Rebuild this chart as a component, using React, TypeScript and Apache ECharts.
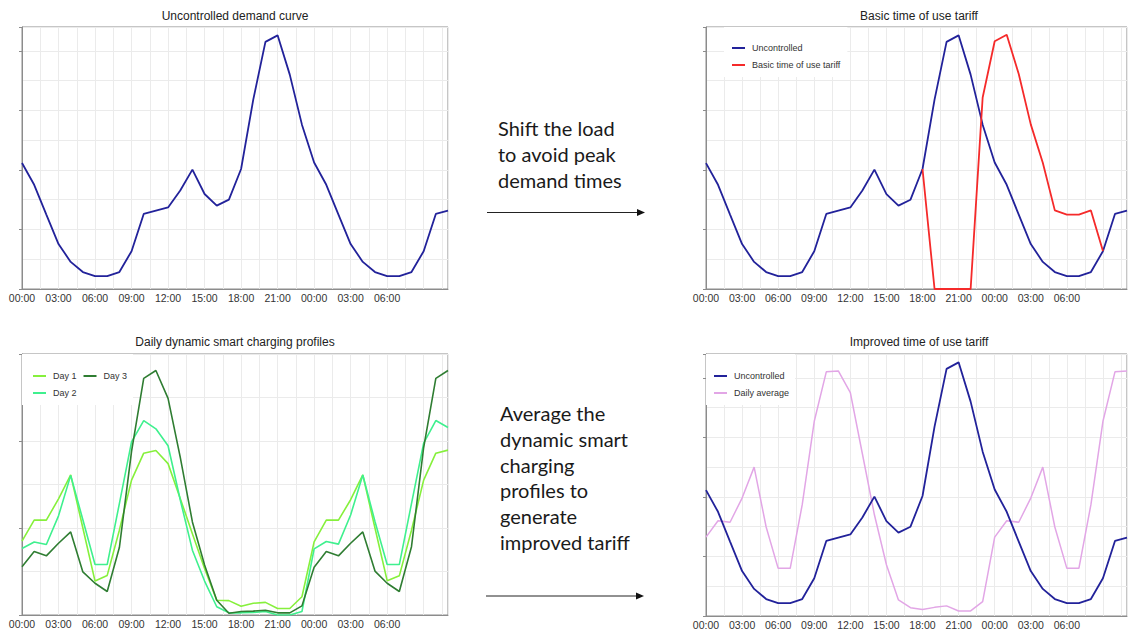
import { useEffect, useRef } from 'react';
import * as echarts from 'echarts';

const hours = [0, 1, 2, 3, 4, 5, 6, 7, 8, 9, 10, 11, 12, 13, 14, 15, 16, 17, 18, 19, 20, 21, 22, 23, 24, 25, 26, 27, 28, 29, 30, 31, 32, 33, 34, 35];
const hourLabels = ['00:00', '03:00', '06:00', '09:00', '12:00', '15:00', '18:00', '21:00', '00:00', '03:00', '06:00'];

const uncontrolled = [4.23, 3.5, 2.5, 1.51, 0.91, 0.57, 0.43, 0.43, 0.57, 1.27, 2.52, 2.63, 2.74, 3.31, 4.01, 3.19, 2.8, 3.0, 4.03, 6.36, 8.3, 8.52, 7.2, 5.52, 4.25, 3.5, 2.5, 1.51, 0.91, 0.57, 0.43, 0.43, 0.57, 1.27, 2.52, 2.63];
const basicTou = [null, null, null, null, null, null, null, null, null, null, null, null, null, null, null, null, null, null, 4.03, 0, 0, 0, 0, 6.43, 8.32, 8.54, 7.22, 5.53, 4.24, 2.64, 2.5, 2.5, 2.64, 1.28, null, null];
const day1 = [1.7, 2.18, 2.18, 2.67, 3.22, 2.0, 0.78, 0.91, 1.95, 3.1, 3.72, 3.78, 3.48, 2.68, 1.87, 1.07, 0.34, 0.33, 0.2, 0.27, 0.29, 0.15, 0.15, 0.42, 1.68, 2.18, 2.18, 2.65, 3.22, 2.0, 0.79, 0.9, 1.95, 3.1, 3.72, 3.79];
const day2 = [1.53, 1.68, 1.62, 2.28, 3.21, 2.19, 1.16, 1.16, 2.56, 3.98, 4.47, 4.28, 3.89, 2.65, 1.49, 0.78, 0.19, 0.05, 0.05, 0.06, 0.08, 0.0, 0.0, 0.08, 1.52, 1.69, 1.63, 2.3, 3.22, 2.15, 1.16, 1.16, 2.56, 3.95, 4.47, 4.31];
const day3 = [1.11, 1.46, 1.36, 1.65, 1.91, 0.99, 0.73, 0.54, 1.55, 3.76, 5.44, 5.62, 4.98, 3.63, 2.14, 1.15, 0.34, 0.04, 0.08, 0.09, 0.11, 0.05, 0.05, 0.21, 1.1, 1.46, 1.36, 1.65, 1.91, 1.01, 0.73, 0.54, 1.57, 3.85, 5.44, 5.62];
const dailyAverage = [2.65, 3.2, 3.15, 3.96, 5.0, 2.99, 1.6, 1.6, 3.74, 6.54, 8.2, 8.23, 7.5, 5.45, 3.4, 1.72, 0.54, 0.28, 0.22, 0.29, 0.34, 0.17, 0.17, 0.48, 2.65, 3.2, 3.15, 3.96, 5.0, 2.99, 1.6, 1.6, 3.74, 6.54, 8.2, 8.23];

const panelTitles = ['Uncontrolled demand curve', 'Basic time of use tariff', 'Daily dynamic smart charging profiles', 'Improved time of use tariff'];
const note1 = 'Shift the load\nto avoid peak\ndemand times';
const note2 = 'Average the\ndynamic smart\ncharging\nprofiles to\ngenerate\nimproved tariff';

const BLUE = '#22229a';
const RED = '#f52a2a';
const C_DAY1 = '#86f03c';
const C_DAY2 = '#3ff08e';
const C_DAY3 = '#2f7d32';
const PINK = '#e2a6e6';
const FRAME = '#8c8c8c';
const GRIDLINE = '#ebebeb';

function pairs(arr: (number | null)[]) {
  const out: [number, number][] = [];
  hours.forEach((h, i) => {
    const v = arr[i];
    if (v !== null && v !== undefined) out.push([h, v]);
  });
  return out;
}

const grids = [
  { left: 22, top: 27, width: 426, height: 262 },
  { left: 706, top: 27, width: 426, height: 262 },
  { left: 22, top: 354, width: 426, height: 261 },
  { left: 706, top: 354, width: 426, height: 262 },
];
const yMax = [8.8, 8.8, 6, 8.8];

function buildOption() {
  const grid = grids.map((g) => ({
    ...g,
    show: true,
    borderColor: FRAME,
    borderWidth: 1,
    backgroundColor: '#fff',
    containLabel: false,
  }));

  const xAxis = grids.map((_, i) => ({
    type: 'value',
    gridIndex: i,
    min: 0,
    max: 35,
    interval: 1.5,
    axisLine: { show: true, lineStyle: { color: FRAME, width: 1 } },
    axisTick: { show: false },
    splitLine: { show: true, lineStyle: { color: GRIDLINE, width: 1 } },
    axisLabel: {
      show: true,
      margin: 3,
      fontSize: 10.5,
      color: '#333',
      fontFamily: 'Liberation Sans',
      formatter: (v: number) => {
        const k = v / 3;
        const r = Math.round(k);
        if (Math.abs(k - r) < 1e-6 && r >= 0 && r < hourLabels.length) return hourLabels[r];
        return '';
      },
    },
  }));

  const yAxis: any[] = [];
  grids.forEach((_, i) => {
    yAxis.push({
      type: 'value',
      gridIndex: i,
      position: 'left',
      min: 0,
      max: yMax[i],
      interval: 1,
      axisLine: { show: true, lineStyle: { color: FRAME, width: 1 } },
      axisTick: { show: false },
      axisLabel: { show: false },
      splitLine: { show: true, lineStyle: { color: GRIDLINE, width: 1 } },
    });
    yAxis.push({
      type: 'value',
      gridIndex: i,
      position: 'left',
      min: 0,
      max: yMax[i],
      interval: 2,
      axisLine: { show: false },
      axisTick: { show: true, length: 3, lineStyle: { color: FRAME, width: 1 } },
      axisLabel: { show: false },
      splitLine: { show: false },
    });
  });

  const line = (name: string, data: (number | null)[], color: string, g: number, width: number) => ({
    type: 'line',
    name,
    data: pairs(data),
    xAxisIndex: g,
    yAxisIndex: g * 2,
    symbol: 'none',
    showSymbol: false,
    color,
    lineStyle: { color, width },
    silent: true,
    clip: true,
  });

  const series = [
    line('Uncontrolled', uncontrolled, BLUE, 0, 1.8),
    line('Uncontrolled', uncontrolled, BLUE, 1, 1.8),
    line('Basic time of use tariff', basicTou, RED, 1, 1.8),
    line('Day 1', day1, C_DAY1, 2, 1.6),
    line('Day 2', day2, C_DAY2, 2, 1.6),
    line('Day 3', day3, C_DAY3, 2, 1.6),
    line('Daily average', dailyAverage, PINK, 3, 1.5),
    line('Uncontrolled', uncontrolled, BLUE, 3, 1.8),
  ];

  const legendText = {
    fontSize: 9,
    color: '#333',
    fontFamily: 'Liberation Sans',
    lineHeight: 10,
    padding: [0, 0, 0, 2],
  };
  const legendBase = {
    icon: 'rect',
    itemWidth: 13,
    itemHeight: 2,
    itemGap: 7,
    backgroundColor: '#fff',
    selectedMode: false,
    textStyle: legendText,
  };
  const legend = [
    { ...legendBase, orient: 'vertical', left: 724, top: 27, padding: [16, 7, 7, 8], data: ['Uncontrolled', 'Basic time of use tariff'] },
    { ...legendBase, orient: 'horizontal', left: 22, top: 354, width: 110, padding: [17, 6, 7, 11], data: ['Day 1', 'Day 3', 'Day 2'] },
    { ...legendBase, orient: 'vertical', left: 706, top: 354, padding: [17, 6, 7, 8], data: ['Uncontrolled', 'Daily average'] },
  ];

  const titleCenters = [
    [235, 16],
    [919, 16],
    [235, 342],
    [919, 342],
  ];
  const graphic: any[] = panelTitles.map((t, i) => ({
    type: 'text',
    x: titleCenters[i][0],
    y: titleCenters[i][1],
    silent: true,
    style: {
      text: t,
      fontSize: 12,
      fontFamily: 'Liberation Sans',
      fill: '#222',
      textAlign: 'center',
      textVerticalAlign: 'middle',
      align: 'center',
      verticalAlign: 'middle',
    },
  }));

  const noteStyle = {
    fontSize: 20,
    fontFamily: 'Lato',
    fill: '#1a1a1a',
    lineHeight: 26,
    textAlign: 'left',
    textVerticalAlign: 'top',
    align: 'left',
    verticalAlign: 'top',
  };
  graphic.push({ type: 'text', x: 498, y: 115, silent: true, style: { ...noteStyle, text: note1 } });
  graphic.push({ type: 'text', x: 500, y: 400, silent: true, style: { ...noteStyle, lineHeight: 25.8, text: note2 } });

  const arrow = (x1: number, x2: number, y: number) => [
    { type: 'line', silent: true, shape: { x1, y1: y, x2: x2 - 6, y2: y }, style: { stroke: '#222', lineWidth: 1 } },
    { type: 'polygon', silent: true, shape: { points: [[x2 - 8, y - 3.5], [x2, y], [x2 - 8, y + 3.5]] }, style: { fill: '#111' } },
  ];
  graphic.push(...arrow(487, 645, 212.5));
  graphic.push(...arrow(486, 644, 596));

  return {
    animation: false,
    backgroundColor: '#fff',
    grid,
    xAxis,
    yAxis,
    legend,
    series,
    graphic,
  };
}

export default function App() {
  const ref = useRef<HTMLDivElement>(null);
  useEffect(() => {
    if (!ref.current) return;
    const chart = echarts.init(ref.current, undefined, { renderer: 'svg' });
    chart.setOption(buildOption() as any);
    return () => chart.dispose();
  }, []);
  return <div ref={ref} style={{ position: 'absolute', left: 0, top: 0, width: 1130, height: 632 }} />;
}
